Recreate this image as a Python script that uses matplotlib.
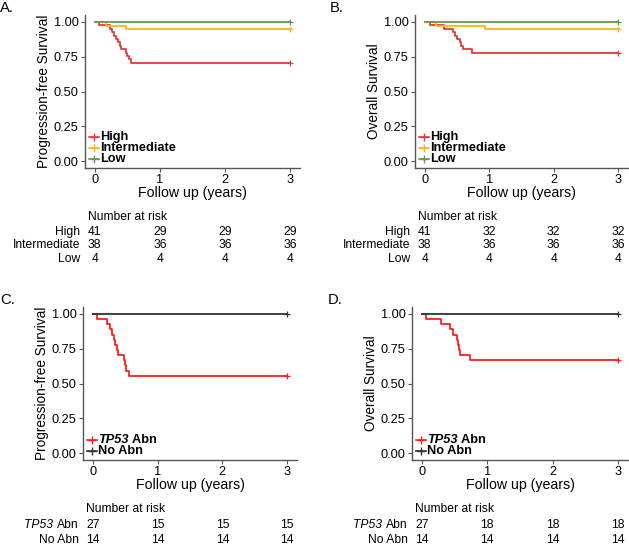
import matplotlib
matplotlib.use("Agg")
import matplotlib.pyplot as plt
from matplotlib.transforms import blended_transform_factory

plt.rcParams['font.family'] = ['Liberation Sans', 'DejaVu Sans']

W, H = 629, 545

# ---- data ----
RISK_TIMES = [0, 1, 2, 3]

# A. progression-free survival by risk group
pfs_high_t = [0, 0.07, 0.23, 0.26, 0.29, 0.32, 0.36, 0.38, 0.41, 0.48, 0.50, 0.53, 0.56, 3.0]
pfs_high_s = [1.0, 0.976, 0.951, 0.927, 0.902, 0.878, 0.854, 0.829, 0.805, 0.780, 0.756, 0.732, 0.707, 0.707]
pfs_int_t = [0, 0.17, 0.48, 3.0]
pfs_int_s = [1.0, 0.974, 0.947, 0.947]
pfs_low_t = [0, 3.0]
pfs_low_s = [1.0, 1.0]

# B. overall survival by risk group
os_high_t = [0, 0.08, 0.30, 0.44, 0.47, 0.50, 0.54, 0.56, 0.59, 0.73, 3.0]
os_high_s = [1.0, 0.976, 0.951, 0.927, 0.902, 0.878, 0.854, 0.829, 0.805, 0.780, 0.780]
os_int_t = [0, 0.17, 0.93, 3.0]
os_int_s = [1.0, 0.974, 0.947, 0.947]
os_low_t = [0, 3.0]
os_low_s = [1.0, 1.0]

# C. progression-free survival by TP53 status
pfs_tp53_t = [0, 0.07, 0.22, 0.26, 0.30, 0.33, 0.35, 0.37, 0.39, 0.48, 0.50, 0.52, 0.56, 3.0]
pfs_tp53_s = [1.0, 0.963, 0.926, 0.889, 0.852, 0.815, 0.778, 0.741, 0.704, 0.667, 0.630, 0.593, 0.556, 0.556]
pfs_noabn_t = [0, 3.0]
pfs_noabn_s = [1.0, 1.0]

# D. overall survival by TP53 status
os_tp53_t = [0, 0.07, 0.30, 0.43, 0.48, 0.53, 0.55, 0.57, 0.59, 0.73, 3.0]
os_tp53_s = [1.0, 0.963, 0.926, 0.889, 0.852, 0.815, 0.778, 0.741, 0.704, 0.667, 0.667]
os_noabn_t = [0, 3.0]
os_noabn_s = [1.0, 1.0]

risk_groups = ["High", "Intermediate", "Low"]
risk_pfs = [[41, 29, 29, 29], [38, 36, 36, 36], [4, 4, 4, 4]]
risk_os = [[41, 32, 32, 32], [38, 36, 36, 36], [4, 4, 4, 4]]
tp53_groups = ["TP53 Abn", "No Abn"]
tp53_pfs = [[27, 15, 15, 15], [14, 14, 14, 14]]
tp53_os = [[27, 18, 18, 18], [14, 14, 14, 14]]

RED = "#E03A3C"
ORANGE = "#FFB31A"
GREEN = "#67994A"
RED2 = "#FF1F1F"
DARK = "#333333"
risk_colors = [RED, ORANGE, GREEN]
tp53_colors = [RED2, DARK]

FS = 8.2

fig = plt.figure(figsize=(W / 100, H / 100), dpi=100)


def px_axes(left, right, top, bottom):
    return fig.add_axes([left / W, 1 - bottom / H, (right - left) / W, (bottom - top) / H])


def style(ax, ylabel):
    ax.set_xlim(-0.15, 3.15)
    ax.set_ylim(-0.05, 1.05)
    ax.set_xticks([0, 1, 2, 3])
    ax.set_yticks([0, 0.25, 0.5, 0.75, 1.0])
    ax.set_yticklabels(["0.00", "0.25", "0.50", "0.75", "1.00"])
    for s in ["top", "right"]:
        ax.spines[s].set_visible(False)
    for s in ["left", "bottom"]:
        ax.spines[s].set_color("#555555")
        ax.spines[s].set_linewidth(1.0)
    ax.tick_params(length=3, width=0.8, color="#555555", labelsize=FS + 1, pad=1.5)
    ax.set_xlabel("Follow up (years)", fontsize=FS + 2, labelpad=0)
    ax.set_ylabel(ylabel, fontsize=FS + 1.6, labelpad=2)


def curves(ax, series, colors):
    for (t, s), c in zip(series, colors):
        ax.step(t, s, where="post", color=c, lw=1.3)
        ax.plot([t[-1]], [s[-1]], marker="+", color=c, ms=5, mew=0.9)


def legend(ax, labels, colors):
    ys = [0.175, 0.095, 0.015] if len(labels) == 3 else [0.095, 0.015]
    for lab, c, y in zip(labels, colors, ys):
        ax.plot([-0.09, 0.07], [y, y], color=c, lw=1.2, clip_on=False)
        ax.plot([-0.01], [y], marker="+", color=c, ms=6, mew=1.0, clip_on=False)
        if lab.startswith("TP53"):
            t1 = ax.text(0.085, y, "TP53", fontsize=FS + 1, weight="bold", style="italic",
                         va="center", ha="left")
            ax.annotate(" Abn", xy=(1, 0), xycoords=t1, fontsize=FS + 1, weight="bold",
                        va="bottom", ha="left")
        else:
            ax.text(0.085, y, lab, fontsize=FS + 1, weight="bold", va="center", ha="left")


def risk_table(ax, groups, counts, title_py, row_py):
    tr = blended_transform_factory(ax.transData, fig.transFigure)
    ax.text(-0.1, 1 - title_py / H, "Number at risk", transform=tr, fontsize=FS + 0.5,
            ha="left", va="center")
    for g, row, py in zip(groups, counts, row_py):
        y = 1 - py / H
        if g.startswith("TP53"):
            t1 = ax.text(-0.22, y, "Abn", transform=tr, fontsize=FS + 0.5, ha="right", va="center")
            ax.annotate("TP53 ", xy=(0, 0), xycoords=t1, fontsize=FS + 0.5, style="italic",
                        ha="right", va="bottom")
        else:
            ax.text(-0.22, y, g, transform=tr, fontsize=FS + 0.5, ha="right", va="center")
        for x, n in zip(RISK_TIMES, row):
            ax.text(x, y, str(n), transform=tr, fontsize=FS + 0.5, ha="center", va="center")


axA = px_axes(85, 300, 15, 168)
axB = px_axes(415, 628, 15, 168)
axC = px_axes(83, 297, 307, 460)
axD = px_axes(412, 628, 307, 460)

style(axA, "Progression-free Survival")
curves(axA, [(pfs_high_t, pfs_high_s), (pfs_int_t, pfs_int_s), (pfs_low_t, pfs_low_s)], risk_colors)
legend(axA, risk_groups, risk_colors)
risk_table(axA, risk_groups, risk_pfs, 217, [232, 245, 259])

style(axB, "Overall Survival")
curves(axB, [(os_high_t, os_high_s), (os_int_t, os_int_s), (os_low_t, os_low_s)], risk_colors)
legend(axB, risk_groups, risk_colors)
risk_table(axB, risk_groups, risk_os, 217, [232, 245, 259])

style(axC, "Progression-free Survival")
curves(axC, [(pfs_tp53_t, pfs_tp53_s), (pfs_noabn_t, pfs_noabn_s)], tp53_colors)
legend(axC, tp53_groups, tp53_colors)
risk_table(axC, tp53_groups, tp53_pfs, 509, [525, 540])

style(axD, "Overall Survival")
curves(axD, [(os_tp53_t, os_tp53_s), (os_noabn_t, os_noabn_s)], tp53_colors)
legend(axD, tp53_groups, tp53_colors)
risk_table(axD, tp53_groups, tp53_os, 509, [525, 540])

for lab, px, py in [("A.", 0, 8), ("B.", 330, 8), ("C.", 0, 300), ("D.", 328, 300)]:
    fig.text(px / W, 1 - py / H, lab, fontsize=FS + 2.5, ha="left", va="center")

fig.savefig("out.png", dpi=100)
